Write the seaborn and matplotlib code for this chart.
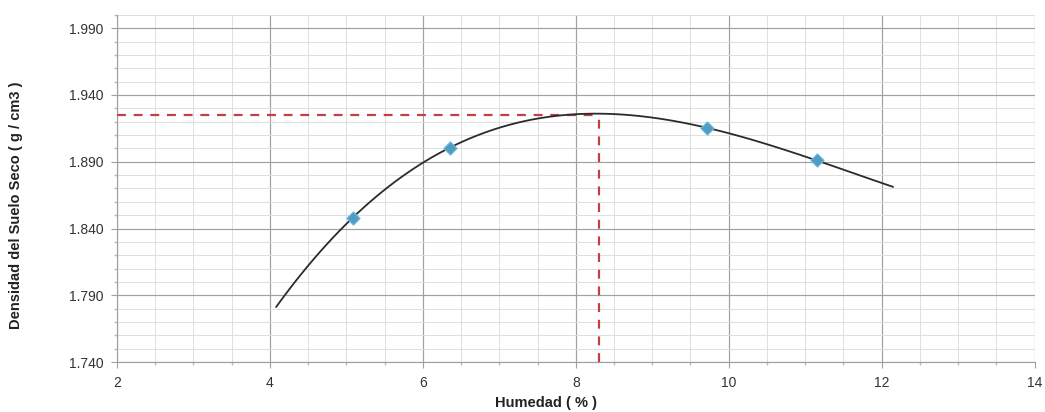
import numpy as np
import pandas as pd
import matplotlib
matplotlib.use("Agg")
import matplotlib.pyplot as plt
from matplotlib.ticker import MultipleLocator, FormatStrFormatter
import seaborn as sns

# Data
humedad = [5.08, 6.35, 9.71, 11.15]          # %
densidad = [1.848, 1.9005, 1.9155, 1.891]    # g/cm3
opt_humedad = 8.30
max_densidad = 1.925
trend_from, trend_to = 4.08, 12.15            # trendline range (1 unit forecast each side)

x_ticks = [2, 4, 6, 8, 10, 12, 14]
y_ticks = [1.740, 1.790, 1.840, 1.890, 1.940, 1.990]

sns.set_theme(style="white")
plt.rcParams['font.family'] = ['Liberation Sans', 'DejaVu Sans']

fig = plt.figure(figsize=(10.45, 4.12), dpi=100)
ax = fig.add_axes([0.112, 0.121, 0.878, 0.843])

df = pd.DataFrame({"Humedad": humedad, "Densidad": densidad})

# polynomial trendline (order 3) over the forecast range
ax.set_xlim(trend_from, trend_to)
sns.regplot(data=df, x="Humedad", y="Densidad", order=3, ci=None, truncate=False,
            scatter=False, ax=ax, line_kws=dict(color="#2b2b2b", lw=1.3, zorder=4))

# data points
sns.scatterplot(data=df, x="Humedad", y="Densidad", marker="D", s=45,
                color="#4f9cc4", edgecolor="#6cb8d8", linewidth=0.8, ax=ax, zorder=5)

ax.set_xlim(2, 14)
ax.set_ylim(1.740, 2.000)

# dashed guide lines to optimum
ax.plot([2, opt_humedad], [max_densidad, max_densidad], ls=(0, (4, 3.5)),
        color="#c0404a", lw=1.6, zorder=3)
ax.plot([opt_humedad, opt_humedad], [1.740, max_densidad], ls=(0, (4, 3.5)),
        color="#c0404a", lw=1.6, zorder=3)

ax.set_xticks(x_ticks)
ax.set_yticks(y_ticks)
ax.yaxis.set_major_formatter(FormatStrFormatter('%.3f'))
ax.xaxis.set_minor_locator(MultipleLocator(0.5))
ax.yaxis.set_minor_locator(MultipleLocator(0.01))

ax.grid(which="major", color="#a0a0a0", lw=0.85)
ax.grid(which="minor", color="#dedede", lw=0.7)
ax.set_axisbelow(True)

for s in ["top", "right"]:
    ax.spines[s].set_visible(False)
for s in ["left", "bottom"]:
    ax.spines[s].set_color("#a0a0a0")
    ax.spines[s].set_linewidth(0.85)

ax.tick_params(axis="both", which="major", labelsize=10, colors="#a0a0a0",
               labelcolor="#333333", length=4, width=0.8, direction="out", pad=6)
ax.tick_params(axis="both", which="minor", length=2, colors="#bbbbbb")
ax.tick_params(axis="x", which="both", bottom=True)
ax.tick_params(axis="y", which="both", left=True)

ax.set_xlabel("Humedad ( % )", fontsize=10.5, fontweight="bold", color="#222222")
ax.set_ylabel("Densidad del Suelo Seco ( g / cm3 )", fontsize=10.5, fontweight="bold",
              color="#222222")
ax.xaxis.set_label_coords(0.467, -0.118, transform=ax.transAxes)
ax.xaxis.label.set_va("center")
ax.yaxis.set_label_coords(-0.110, 0.452, transform=ax.transAxes)
ax.yaxis.label.set_va("center")

fig.savefig("out.png", dpi=100)
